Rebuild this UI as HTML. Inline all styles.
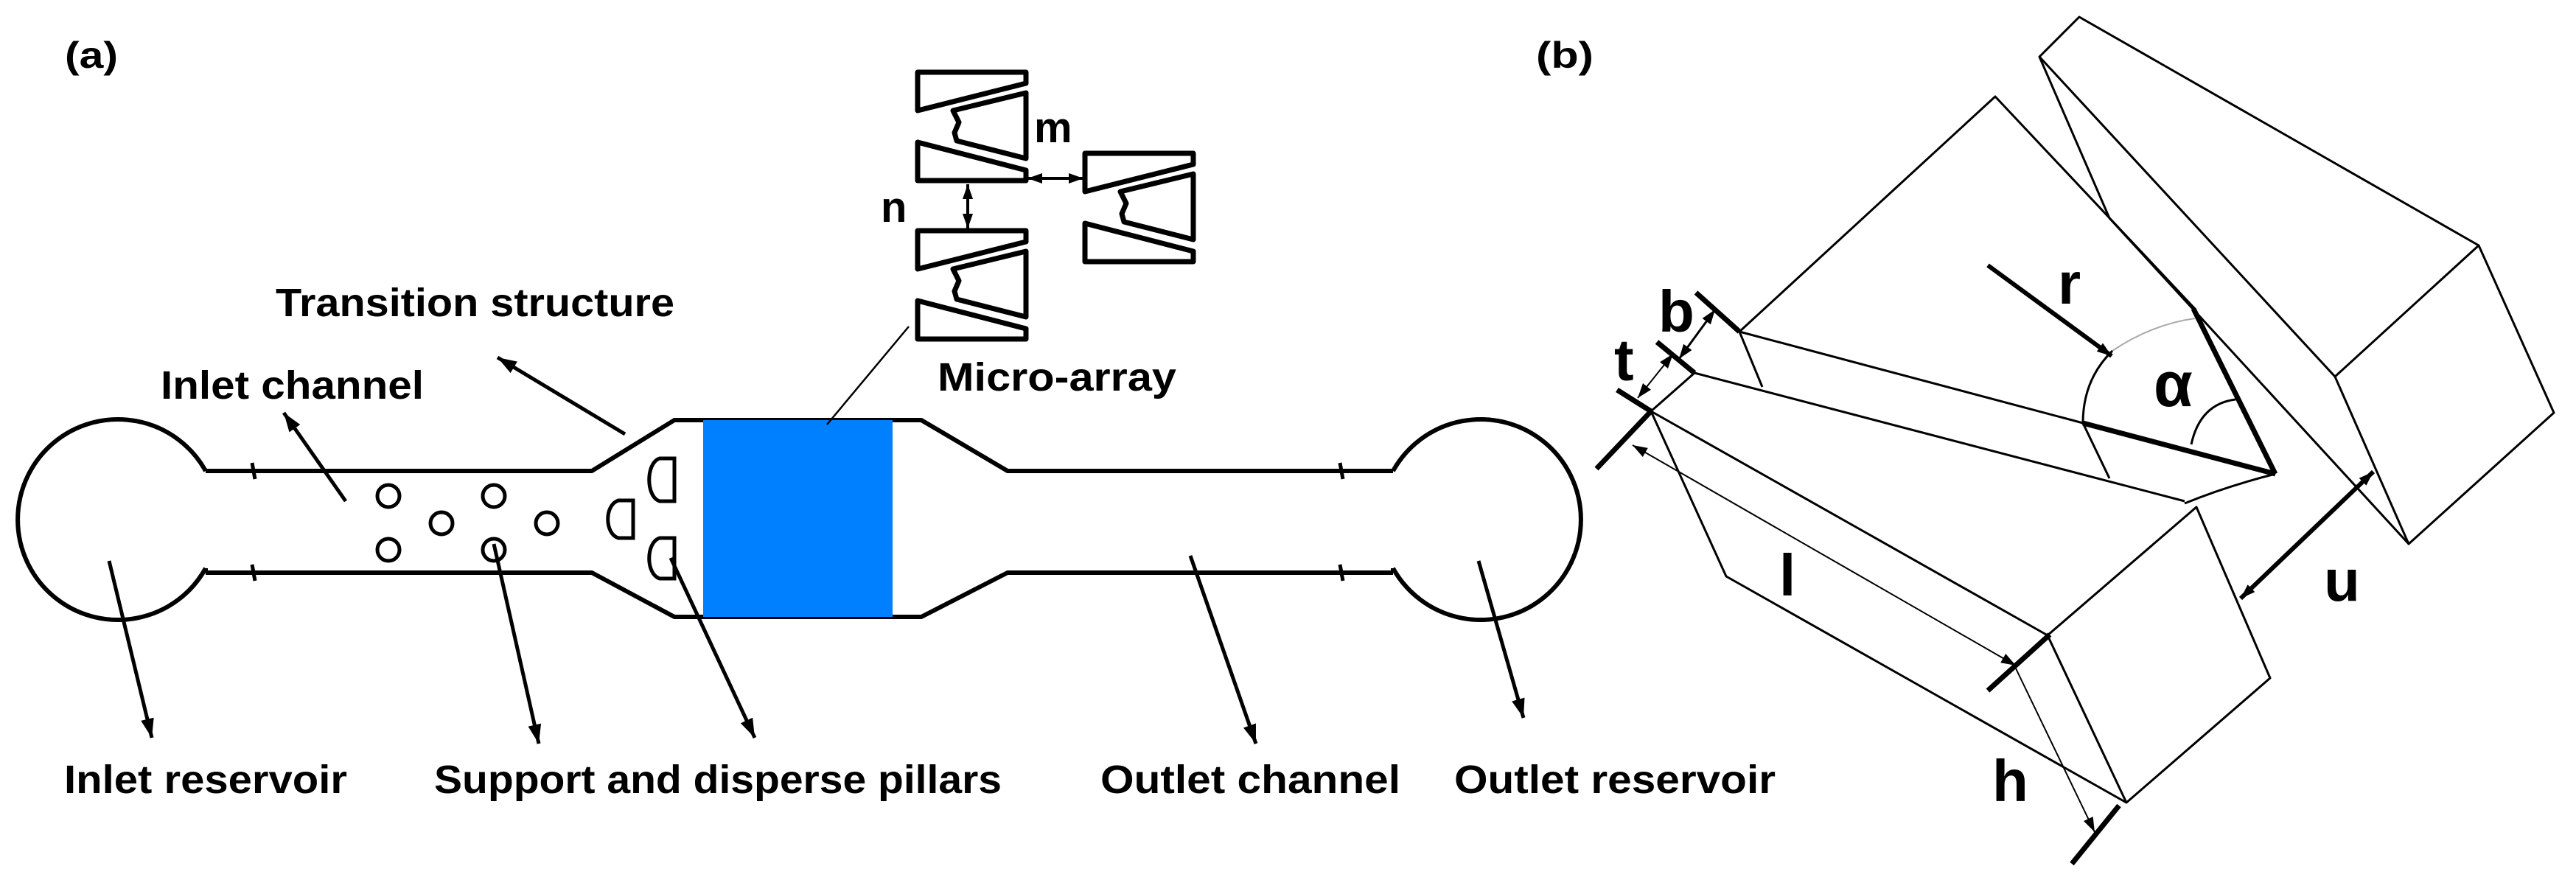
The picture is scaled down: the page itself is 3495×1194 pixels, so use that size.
<!DOCTYPE html>
<html><head><meta charset="utf-8"><style>html,body{margin:0;padding:0;background:#fff}svg{display:block}</style></head>
<body>
<svg width="3495" height="1194" viewBox="0 0 3495 1194" xmlns="http://www.w3.org/2000/svg">
<defs>
<marker id="ah" markerUnits="userSpaceOnUse" markerWidth="30" markerHeight="20" refX="26" refY="9" orient="auto-start-reverse"><path d="M0,0 L26,9 L0,18 z" fill="#000"/></marker>
<marker id="sm" markerUnits="userSpaceOnUse" markerWidth="24" markerHeight="16" refX="20" refY="7" orient="auto-start-reverse"><path d="M0,0 L20,7 L0,14 z" fill="#000"/></marker>
<g id="unit" fill="#fff" stroke="#000" stroke-width="7" stroke-linejoin="round">
<path d="M0,0 L147,0 L147,15 L0,52 Z"/>
<path d="M147,28 L147,117 L53,93 L50,82 L56,68 L48,52 Z"/>
<path d="M0,95 L147,133 L147,147 L0,147 Z"/>
</g>
</defs>
<rect width="3495" height="1194" fill="#fff"/>

<g font-family="Liberation Sans, sans-serif" font-weight="bold" fill="#000">
<text x="88" y="92" font-size="50" textLength="72" lengthAdjust="spacingAndGlyphs">(a)</text>
<text x="2084" y="92" font-size="50" textLength="78" lengthAdjust="spacingAndGlyphs">(b)</text>
<text x="374" y="429" font-size="54" textLength="541" lengthAdjust="spacingAndGlyphs">Transition structure</text>
<text x="218" y="541" font-size="54" textLength="357" lengthAdjust="spacingAndGlyphs">Inlet channel</text>
<text x="1272" y="530" font-size="54" textLength="324" lengthAdjust="spacingAndGlyphs">Micro-array</text>
<text x="87" y="1076" font-size="54" textLength="384" lengthAdjust="spacingAndGlyphs">Inlet reservoir</text>
<text x="589" y="1076" font-size="54" textLength="770" lengthAdjust="spacingAndGlyphs">Support and disperse pillars</text>
<text x="1493" y="1076" font-size="54" textLength="407" lengthAdjust="spacingAndGlyphs">Outlet channel</text>
<text x="1973" y="1076" font-size="54" textLength="436" lengthAdjust="spacingAndGlyphs">Outlet reservoir</text>
<text x="1403" y="193" font-size="58">m</text>
<text x="1195" y="301" font-size="58">n</text>
<text x="2250" y="450" font-size="80">b</text>
<text x="2190" y="516" font-size="80">t</text>
<text x="2414" y="808" font-size="80">l</text>
<text x="2703" y="1087" font-size="80">h</text>
<text x="3153" y="815" font-size="80">u</text>
<text x="2792" y="412" font-size="80">r</text>
<text x="2922" y="551" font-size="86">α</text>
</g>

<!-- channel -->
<g fill="none" stroke="#000" stroke-width="6" stroke-linejoin="round">
<path d="M279,639 A136,136 0 1 0 279,771"/>
<path d="M279,639 L803,639 L915,570 L1250,570 L1367,639 L1890,639"/>
<path d="M279,777 L803,777 L915,837 L1250,837 L1367,777 L1890,777"/>
<path d="M1890,639 A136,136 0 1 1 1890,771"/>
<path d="M279,771 L279,777 M1890,771 L1890,777"/>
<path d="M342,628 L346,650 M342,766 L346,788 M1818,628 L1822,650 M1818,766 L1822,788" stroke-width="5"/>
</g>
<rect x="954" y="570" width="257" height="267" fill="#0080ff"/>
<g fill="#fff" stroke="#000" stroke-width="5">
<circle cx="527" cy="673" r="15"/><circle cx="527" cy="746" r="15"/><circle cx="599" cy="710" r="15"/>
<circle cx="670" cy="673" r="15"/><circle cx="670" cy="746" r="15"/><circle cx="742" cy="710" r="15"/>
<path d="M915,622 H895 C876,628 876,674 895,680 H915 Z"/>
<path d="M859,679 H839 C820,685 820,724 839,730 H859 Z"/>
<path d="M915,730 H895 C876,736 876,779 895,785 H915 Z"/>
</g>

<!-- micro array -->
<use href="#unit" x="1245" y="98"/>
<use href="#unit" x="1245" y="313"/>
<use href="#unit" x="1472" y="208"/>

<g stroke="#000" fill="none">
<line x1="1313" y1="250" x2="1313" y2="310" stroke-width="4" marker-start="url(#sm)" marker-end="url(#sm)"/>
<line x1="1394" y1="242" x2="1470" y2="242" stroke-width="4" marker-start="url(#sm)" marker-end="url(#sm)"/>
<!-- (a) arrows -->
<line x1="848" y1="589" x2="675" y2="485" stroke-width="5" marker-end="url(#ah)"/>
<line x1="469" y1="680" x2="385" y2="560" stroke-width="5" marker-end="url(#ah)"/>
<line x1="1122" y1="576" x2="1233" y2="443" stroke-width="2.5"/>
<line x1="148" y1="761" x2="206" y2="1001" stroke-width="5" marker-end="url(#ah)"/>
<line x1="670" y1="738" x2="731" y2="1009" stroke-width="5" marker-end="url(#ah)"/>
<line x1="910" y1="757" x2="1024" y2="1001" stroke-width="5" marker-end="url(#ah)"/>
<line x1="1615" y1="754" x2="1704" y2="1009" stroke-width="5" marker-end="url(#ah)"/>
<line x1="2006" y1="761" x2="2067" y2="974" stroke-width="5" marker-end="url(#ah)"/>
</g>

<!-- (b) -->
<g stroke="#000" fill="none" stroke-width="3" stroke-linejoin="round">
<!-- right block -->
<path d="M2821,23 L2767,77 L3168,511 L3363,333 Z"/>
<path d="M3363,333 L3465,560 L3268,738 L3168,511"/>
<path d="M2767,77 L2862,296 L3268,738"/>
<!-- left upper block -->
<path d="M2360,450 L2707,131 L2978,419"/>
<path d="M2360,450 L2391,525"/>
<path d="M2360,450 L2826,574"/>
<path d="M2299,506 L2964,680"/>
<path d="M2866,476 Q2826,515 2826,574 L2862,649"/>
<path d="M2866,476 Q2920,440 2978,432" stroke="#aaa" stroke-width="2"/>
<!-- lower block -->
<path d="M2240,558 L2299,506"/>
<path d="M2240,558 L2778,862 L2980,688 L3080,920 L2885,1089 L2342,782 Z"/>
<path d="M2778,862 L2885,1089"/>
<path d="M2964,683 Q3020,660 3087,643"/>
</g>
<g stroke="#000" fill="none">
<line x1="2976" y1="419" x2="3087" y2="643" stroke-width="7"/>
<line x1="2826" y1="574" x2="3087" y2="643" stroke-width="7"/>
<path d="M2973,603 Q2985,548 3033,542" stroke-width="3"/>
<line x1="2697" y1="360" x2="2865" y2="483" stroke-width="6" marker-end="url(#sm)"/>
<!-- dimension ticks -->
<line x1="2301" y1="397" x2="2360" y2="450" stroke-width="7"/>
<line x1="2248" y1="464" x2="2299" y2="506" stroke-width="7"/>
<line x1="2194" y1="529" x2="2240" y2="558" stroke-width="7"/>
<line x1="2240" y1="558" x2="2166" y2="636" stroke-width="7"/>
<line x1="2781" y1="861" x2="2697" y2="937" stroke-width="7"/>
<line x1="2875" y1="1093" x2="2811" y2="1172" stroke-width="7"/>
<!-- dimension arrows -->
<line x1="2278" y1="487" x2="2327" y2="420" stroke-width="3" marker-start="url(#sm)" marker-end="url(#sm)"/>
<line x1="2270" y1="480" x2="2222" y2="540" stroke-width="2" marker-start="url(#sm)" marker-end="url(#sm)"/>
<line x1="2215" y1="604" x2="2735" y2="903" stroke-width="2" marker-start="url(#sm)" marker-end="url(#sm)"/>
<line x1="2735" y1="907" x2="2842" y2="1129" stroke-width="2" marker-end="url(#sm)"/>
<line x1="3040" y1="812" x2="3220" y2="640" stroke-width="6" marker-start="url(#sm)" marker-end="url(#sm)"/>
</g>
</svg>
</body></html>
